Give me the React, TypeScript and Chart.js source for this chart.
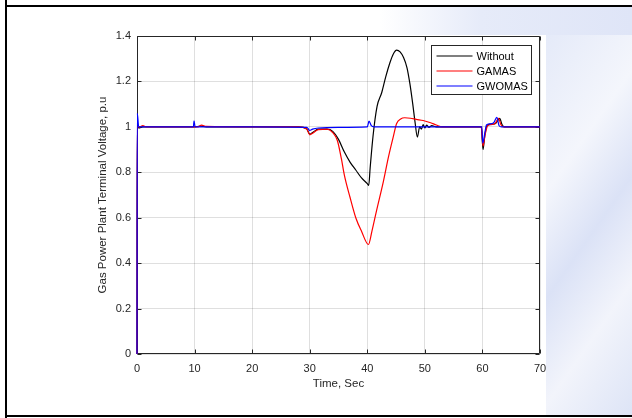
import React, { useEffect, useRef } from "react";
import { Chart, registerables } from "chart.js";

Chart.register(...registerables);

const xTickValues = [0, 10, 20, 30, 40, 50, 60, 70];
const xTickLabels = ["0", "10", "20", "30", "40", "50", "60", "70"];
const yTickValues = [0, 0.2, 0.4, 0.6, 0.8, 1, 1.2, 1.4];
const yTickLabels = ["0", "0.2", "0.4", "0.6", "0.8", "1", "1.2", "1.4"];

const seriesNames = ["Without", "GAMAS", "GWOMAS"];
const seriesColors = ["#000000", "#ff0000", "#0000ff"];

const withoutTime = [0, 0.05, 0.3, 1, 5, 10, 11, 12, 20, 28, 29.5, 30, 30.5, 31.5, 33, 34, 35, 36, 37, 38, 39, 40, 40.25, 40.5, 41, 41.7, 42.5, 43.2, 43.9, 44.5, 45.1, 45.7, 46.3, 46.9, 47.4, 47.9, 48.3, 48.7, 49.1, 49.4, 49.7, 50, 50.3, 50.7, 51.2, 52, 59.8, 60.1, 60.4, 60.8, 61.5, 62.3, 63.0, 63.4, 63.8, 70];
const withoutValue = [0, 1.0, 0.995, 1.0, 1.0, 1.0, 1.003, 1.0, 1.0, 1.0, 0.99, 0.968, 0.975, 0.99, 0.99, 0.98, 0.945, 0.89, 0.845, 0.81, 0.775, 0.75, 0.742, 0.82, 0.96, 1.09, 1.15, 1.22, 1.28, 1.32, 1.338, 1.33, 1.305, 1.26, 1.19, 1.1, 1.02, 0.955, 1.0, 0.99, 1.01, 0.995, 1.008, 0.998, 1.005, 1.0, 1.0, 0.9, 0.96, 1.005, 1.012, 1.015, 1.037, 1.01, 1.0, 1.0];

const gamasTime = [0, 0.05, 0.5, 1, 1.6, 10, 10.6, 11.2, 12, 20, 28, 29.5, 30, 30.5, 31.5, 33, 34, 34.8, 35.5, 36, 37, 38, 39, 40.2, 40.8, 41.6, 42.8, 43.7, 44.5, 45.1, 45.8, 46.5, 47.5, 48.5, 49.7, 51, 52, 53, 59.8, 60.1, 60.5, 60.9, 61.5, 62.2, 62.8, 63.2, 63.6, 70];
const gamasValue = [0, 1.0, 1.0, 1.006, 1.0, 1.0, 1.0, 1.008, 1.002, 1.0, 1.0, 0.99, 0.965, 0.972, 0.988, 0.99, 0.975, 0.94, 0.86, 0.79, 0.69, 0.6, 0.54, 0.482, 0.54, 0.63, 0.76, 0.87, 0.955, 1.015, 1.035, 1.04, 1.038, 1.033, 1.028, 1.018, 1.008, 1.0, 1.0, 0.915, 0.97, 1.005, 1.01, 1.015, 1.037, 1.01, 1.0, 1.0];

const gwomasTime = [0, 0.05, 0.3, 9.8, 9.9, 10.1, 20, 29.5, 30, 30.5, 31.5, 35, 40, 40.3, 40.7, 41.2, 50, 59.9, 60.05, 60.4, 60.7, 61.3, 62, 62.5, 62.9, 63.3, 70];
const gwomasValue = [0, 1.06, 1.0, 1.0, 1.026, 1.0, 1.0, 0.998, 0.984, 0.99, 0.995, 0.998, 1.0, 1.025, 1.005, 1.0, 1.0, 1.0, 0.928, 0.97, 1.008, 1.013, 1.02, 1.042, 1.005, 1.0, 1.0];

const FONT = "'Liberation Sans', Arial, Helvetica, sans-serif";
const AXIS_COLOR = "#262626";

function toPoints(t: number[], v: number[]) {
  return t.map((x, i) => ({ x, y: v[i] }));
}

const framePlugin = {
  id: "matlabFrame",
  beforeDraw(chart: any) {
    const { ctx, chartArea: a } = chart;
    ctx.save();
    ctx.fillStyle = "#ffffff";
    ctx.fillRect(a.left, a.top, a.right - a.left, a.bottom - a.top);
    ctx.restore();
  },
  beforeDatasetsDraw(chart: any) {
    const { ctx, chartArea: a, scales } = chart;
    const L = Math.round(a.left) + 0.5;
    const R = Math.round(a.right) - 0.5;
    const T = Math.round(a.top) + 0.5;
    const B = Math.round(a.bottom) - 0.5;
    const tl = 4;
    ctx.save();
    ctx.strokeStyle = AXIS_COLOR;
    ctx.lineWidth = 1;
    ctx.beginPath();
    ctx.rect(L, T, R - L, B - T);
    scales.x.ticks.forEach((tk: any) => {
      const px = Math.round(scales.x.getPixelForValue(tk.value)) + 0.5;
      ctx.moveTo(px, B);
      ctx.lineTo(px, B - tl);
      ctx.moveTo(px, T);
      ctx.lineTo(px, T + tl);
    });
    scales.y.ticks.forEach((tk: any) => {
      const py = Math.round(scales.y.getPixelForValue(tk.value)) + 0.5;
      ctx.moveTo(L, py);
      ctx.lineTo(L + tl, py);
      ctx.moveTo(R, py);
      ctx.lineTo(R - tl, py);
    });
    ctx.stroke();
    ctx.restore();
  },
  afterDatasetsDraw(chart: any) {
    const { ctx, chartArea: a } = chart;
    const w = 100;
    const h = 49;
    const x0 = Math.round(a.right - 9 - w) + 0.5;
    const y0 = Math.round(a.top + 9) + 0.5;
    ctx.save();
    ctx.fillStyle = "#ffffff";
    ctx.fillRect(x0, y0, w, h);
    ctx.strokeStyle = AXIS_COLOR;
    ctx.lineWidth = 1;
    ctx.strokeRect(x0, y0, w, h);
    ctx.font = `11px ${FONT}`;
    ctx.textBaseline = "middle";
    ctx.textAlign = "left";
    seriesNames.forEach((name, i) => {
      const yy = Math.round(y0 + 10 + i * 15);
      ctx.strokeStyle = seriesColors[i];
      ctx.lineWidth = 1.2;
      ctx.beginPath();
      ctx.moveTo(x0 + 5, yy);
      ctx.lineTo(x0 + 41, yy);
      ctx.stroke();
      ctx.fillStyle = "#000000";
      ctx.fillText(name, x0 + 45, yy + 0.5);
    });
    ctx.restore();
  },
};

export default function App() {
  const canvasRef = useRef<HTMLCanvasElement | null>(null);

  useEffect(() => {
    document.body.style.margin = "0";
    const canvas = canvasRef.current;
    if (!canvas) return;
    const series = [
      toPoints(withoutTime, withoutValue),
      toPoints(gamasTime, gamasValue),
      toPoints(gwomasTime, gwomasValue),
    ];
    const chart = new Chart(canvas, {
      type: "line",
      data: {
        datasets: series.map((pts, i) => ({
          label: seriesNames[i],
          data: pts,
          borderColor: seriesColors[i],
          backgroundColor: seriesColors[i],
          borderWidth: 1.2,
          pointRadius: 0,
          cubicInterpolationMode: "monotone" as const,
          fill: false,
          order: 3 - i,
          clip: false as any,
        })),
      },
      options: {
        animation: false,
        responsive: false,
        maintainAspectRatio: false,
        devicePixelRatio: 1,
        layout: { padding: { left: 90, top: 36, right: 92, bottom: 0 } },
        plugins: {
          legend: { display: false },
          tooltip: { enabled: false },
        },
        scales: {
          x: {
            type: "linear",
            min: 0,
            max: 70,
            afterBuildTicks: (s: any) => {
              s.ticks = xTickValues.map((v) => ({ value: v }));
            },
            afterFit: (s: any) => {
              s.height = 64;
            },
            ticks: {
              callback: (v: any) => {
                const i = xTickValues.indexOf(Number(v));
                return i >= 0 ? xTickLabels[i] : "";
              },
              font: { family: FONT, size: 11 },
              color: AXIS_COLOR,
              padding: 8,
              maxRotation: 0,
            },
            grid: { color: "rgba(38,38,38,0.15)", drawTicks: false, lineWidth: 1 },
            border: { display: false },
            title: {
              display: true,
              text: "Time, Sec",
              font: { family: FONT, size: 11.5 },
              color: AXIS_COLOR,
              padding: { top: 0, bottom: 27 },
            },
          },
          y: {
            type: "linear",
            min: 0,
            max: 1.4,
            afterBuildTicks: (s: any) => {
              s.ticks = yTickValues.map((v) => ({ value: v }));
            },
            afterFit: (s: any) => {
              s.width = 47;
            },
            ticks: {
              callback: (v: any) => {
                const i = yTickValues.findIndex((t) => Math.abs(t - Number(v)) < 1e-6);
                return i >= 0 ? yTickLabels[i] : "";
              },
              font: { family: FONT, size: 11 },
              color: AXIS_COLOR,
              padding: 6,
            },
            grid: { color: "rgba(38,38,38,0.15)", drawTicks: false, lineWidth: 1 },
            border: { display: false },
            title: {
              display: true,
              text: "Gas Power Plant Terminal Voltage, p.u",
              font: { family: FONT, size: 11.5 },
              color: AXIS_COLOR,
              padding: { top: 6, bottom: 0 },
            },
          },
        },
      },
      plugins: [framePlugin],
    });
    return () => chart.destroy();
  }, []);

  return (
    <div style={{ position: "relative", width: 632, height: 418, background: "#ffffff", overflow: "hidden" }}>
      <div
        style={{
          position: "absolute",
          left: 546,
          top: 7,
          width: 86,
          height: 408,
          background: "linear-gradient(125deg, #e2e8f8 0%, #f4f6fc 35%, #dbe2f6 55%, #f2f4fb 75%, #dde4f6 100%)",
        }}
      />
      <div
        style={{
          position: "absolute",
          left: 380,
          top: 7,
          width: 252,
          height: 28,
          background: "linear-gradient(90deg, rgba(226,232,248,0) 0%, #e6ebf9 40%, #dfe5f7 100%)",
        }}
      />
      <canvas ref={canvasRef} width={632} height={418} style={{ position: "absolute", left: 0, top: 0 }} />
      <div style={{ position: "absolute", left: 5, top: 0, width: 2, height: 418, background: "#000" }} />
      <div style={{ position: "absolute", left: 5, top: 5, width: 627, height: 2, background: "#000" }} />
      <div style={{ position: "absolute", left: 5, top: 415, width: 627, height: 2, background: "#000" }} />
    </div>
  );
}
